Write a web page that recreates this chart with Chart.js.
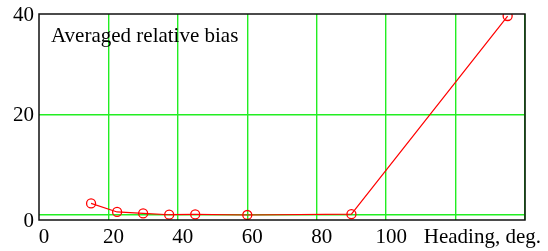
<!DOCTYPE html>
<html><head><meta charset="utf-8">
<script src="https://cdn.jsdelivr.net/npm/chart.js@4/dist/chart.umd.min.js"></script>
<style>html,body{margin:0;padding:0;background:#fff}#wrap{width:548px;height:251px}</style>
</head><body><div id="wrap"><canvas id="c" width="548" height="251"></canvas></div>
<script>
const headings = [15, 22.5, 30, 37.5, 45, 60, 90, 135];
const biasValues = [2.3, 0.6, 0.3, 0.05, 0.1, 0.0, 0.15, 39.6];
const xTicks = [0, 20, 40, 60, 80, 100, 120, 140];
const yTicks = [0, 20, 40];
const xLabelsShown = ['0', '20', '40', '60', '80', '100'];
const plotLabel = 'Averaged relative bias';
const xAxisName = 'Heading, deg.';

const FONT = '"Liberation Serif", "Times New Roman", serif';
const GRID = '#22ee22';

const overlay = {
  id: 'overlay',
  afterDraw(chart) {
    const ctx = chart.ctx, a = chart.chartArea;
    const y = chart.scales.y;
    ctx.save();
    ctx.strokeStyle = '#111';
    ctx.lineWidth = 1.5;
    ctx.strokeRect(a.left, a.top, a.right - a.left, a.bottom - a.top);
    ctx.font = '21px ' + FONT;
    ctx.fillStyle = '#000';
    ctx.textAlign = 'right';
    ctx.textBaseline = 'middle';
    y.ticks.forEach(t => {
      const py = t.value === 0 ? a.bottom : y.getPixelForValue(t.value);
      ctx.fillText(String(t.value), a.left - 5, py + 1);
    });
    ctx.textAlign = 'left';
    ctx.textBaseline = 'alphabetic';
    ctx.fillText(plotLabel, a.left + 12, a.top + 28);
    ctx.textAlign = 'right';
    ctx.textBaseline = 'middle';
    ctx.fillText(xAxisName, 541, a.bottom + 17);
    ctx.restore();
  }
};

new Chart(document.getElementById('c'), {
  type: 'scatter',
  data: {
    datasets: [{
      data: headings.map((h, i) => ({x: h, y: biasValues[i]})),
      showLine: true,
      borderColor: '#ff0000',
      borderWidth: 1.2,
      pointStyle: 'circle',
      pointRadius: 4.5,
      pointBorderWidth: 1.3,
      pointBorderColor: '#ff0000',
      pointBackgroundColor: 'rgba(255,255,255,0)'
    }]
  },
  options: {
    responsive: false,
    animation: false,
    layout: {padding: {left: 0, right: 23, top: 14, bottom: 0}},
    plugins: {legend: {display: false}, tooltip: {enabled: false}},
    scales: {
      x: {
        type: 'linear', min: 0, max: 140,
        afterBuildTicks: s => { s.ticks = xTicks.map(v => ({value: v})); },
        afterFit: s => { s.height = 31; },
        border: {display: false},
        grid: {color: c => c.tick && c.tick.value === 0 ? 'rgba(0,0,0,0)' : GRID, lineWidth: 1.4, drawTicks: false},
        ticks: {
          callback: (v, i) => xLabelsShown[i] !== undefined ? xLabelsShown[i] : '',
          font: {family: FONT, size: 21}, color: '#000',
          padding: 5, labelOffset: 5, maxRotation: 0, autoSkip: false
        }
      },
      y: {
        type: 'linear', min: -1, max: 40,
        afterBuildTicks: s => { s.ticks = yTicks.map(v => ({value: v})); },
        afterFit: s => { s.width = 39; },
        border: {display: false},
        grid: {color: c => c.tick && c.tick.value === 40 ? 'rgba(0,0,0,0)' : GRID, lineWidth: 1.6, drawTicks: false},
        ticks: {display: false}
      }
    }
  },
  plugins: [overlay]
});
</script></body></html>
